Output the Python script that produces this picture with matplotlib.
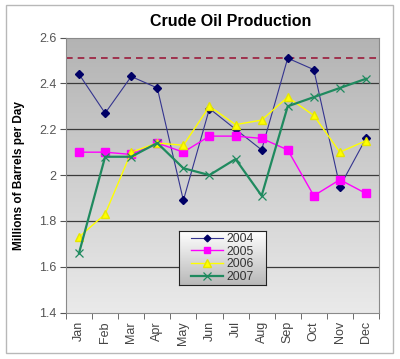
import numpy as np
import matplotlib
matplotlib.use("Agg")
import matplotlib.pyplot as plt
from matplotlib.colors import LinearSegmentedColormap
from matplotlib.patches import Rectangle

plt.rcParams["font.family"] = ["Liberation Sans", "DejaVu Sans"]

MONTHS = ["Jan", "Feb", "Mar", "Apr", "May", "Jun",
          "Jul", "Aug", "Sep", "Oct", "Nov", "Dec"]

PROD_2004 = [2.44, 2.27, 2.43, 2.38, 1.89, 2.29, 2.20, 2.11, 2.51, 2.46, 1.95, 2.16]
PROD_2005 = [2.10, 2.10, 2.09, 2.14, 2.10, 2.17, 2.17, 2.16, 2.11, 1.91, 1.98, 1.92]
PROD_2006 = [1.73, 1.83, 2.10, 2.14, 2.13, 2.30, 2.22, 2.24, 2.34, 2.26, 2.10, 2.15]
PROD_2007 = [1.66, 2.08, 2.08, 2.14, 2.03, 2.00, 2.07, 1.91, 2.30, 2.34, 2.38, 2.42]
PEAK_LEVEL = 2.51

Y_TICKS = [1.4, 1.6, 1.8, 2.0, 2.2, 2.4, 2.6]
Y_LABELS = ["1.4", "1.6", "1.8", "2", "2.2", "2.4", "2.6"]

fig = plt.figure(figsize=(4.0, 3.59), dpi=100)
fig.patch.set_facecolor("white")

# outer chart-area border
fig.add_artist(Rectangle((6 / 400, 1 - 353 / 359), 387 / 400, 348 / 359,
                         transform=fig.transFigure, fill=False,
                         edgecolor="#b8b8b8", linewidth=1.0))

ax = fig.add_axes([0.165, 0.129, 0.7825, 0.7665])

x = np.arange(len(MONTHS))
ax.set_xlim(-0.5, len(MONTHS) - 0.5)
ax.set_ylim(1.4, 2.6)

# gray gradient background, darker at top
grad = np.linspace(0, 1, 256).reshape(-1, 1)
ax.imshow(grad, extent=(-0.5, len(MONTHS) - 0.5, 1.4, 2.6), aspect="auto",
          cmap=LinearSegmentedColormap.from_list("bg", ["#eaeaea", "#b3b3b3"]),
          origin="lower", zorder=0)

for yv in Y_TICKS[1:-1]:
    ax.axhline(yv, color="#3a3a3a", linewidth=0.9, zorder=1)

ax.axhline(PEAK_LEVEL, color="#9b1b3b", linestyle=(0, (4, 3)), linewidth=1.2, zorder=2)

series = [
    (PROD_2004, "2004", dict(color="#34348f", linewidth=0.8, marker="D", markersize=4,
                             markerfacecolor="#000066", markeredgecolor="#000066")),
    (PROD_2005, "2005", dict(color="#ff00ff", linewidth=1.0, marker="s", markersize=5.5,
                             markerfacecolor="#ff00ff", markeredgecolor="#ff00ff")),
    (PROD_2006, "2006", dict(color="#ffff00", linewidth=1.0, marker="^", markersize=6,
                             markerfacecolor="#ffff00", markeredgecolor="#e6e600")),
    (PROD_2007, "2007", dict(color="#1f8a5f", linewidth=1.6, marker="x", markersize=6,
                             markeredgewidth=0.9)),
]
handles = []
for i, (vals, label, style) in enumerate(series):
    (line,) = ax.plot(x, vals, label=label, zorder=3 + i, **style)
    handles.append(line)

ax.set_yticks(Y_TICKS, Y_LABELS)
ax.set_xticks(x, MONTHS, rotation=90)
ax.set_xticks(np.arange(-0.5, len(MONTHS)), minor=True)
ax.tick_params(axis="x", which="major", length=0, pad=6, labelsize=9, labelcolor="#444444")
ax.tick_params(axis="x", which="minor", length=4, direction="out", color="#555555")
ax.tick_params(axis="y", length=4, direction="out", labelsize=9, labelcolor="#555555",
               color="#555555", pad=3)
for spine in ax.spines.values():
    spine.set_color("#8a8a8a")
    spine.set_linewidth(0.8)

ax.set_ylabel("Millions of Barrels per Day", fontsize=8.5, fontweight="bold", labelpad=10)
fig.text(231 / 400, 1 - 21 / 359, "Crude Oil Production", ha="center", va="center",
         fontsize=11.5, fontweight="bold")

# legend box with its own white-to-gray gradient
lax = fig.add_axes([179 / 400, 1 - 285 / 359, 87 / 400, 54 / 359], zorder=10)
lax.imshow(grad, extent=(0, 1, 0, 1), aspect="auto",
           cmap=LinearSegmentedColormap.from_list("lg", ["#b8b8b8", "#ffffff"]),
           origin="lower")
lax.set_xticks([])
lax.set_yticks([])
for spine in lax.spines.values():
    spine.set_color("#222222")
    spine.set_linewidth(0.8)

small = []
for h, (vals, label, style) in zip(handles, series):
    st = dict(style)
    st["markersize"] = st["markersize"] * 0.85
    small.append(plt.Line2D([], [], **st))
leg = lax.legend(small, [s[1] for s in series], loc="center", fontsize=8.8,
                 frameon=False, borderpad=0.1, labelspacing=0.05,
                 handlelength=2.6, handletextpad=0.25, borderaxespad=0)
for t in leg.get_texts():
    t.set_color("#333333")

fig.savefig("out.png", dpi=100)
